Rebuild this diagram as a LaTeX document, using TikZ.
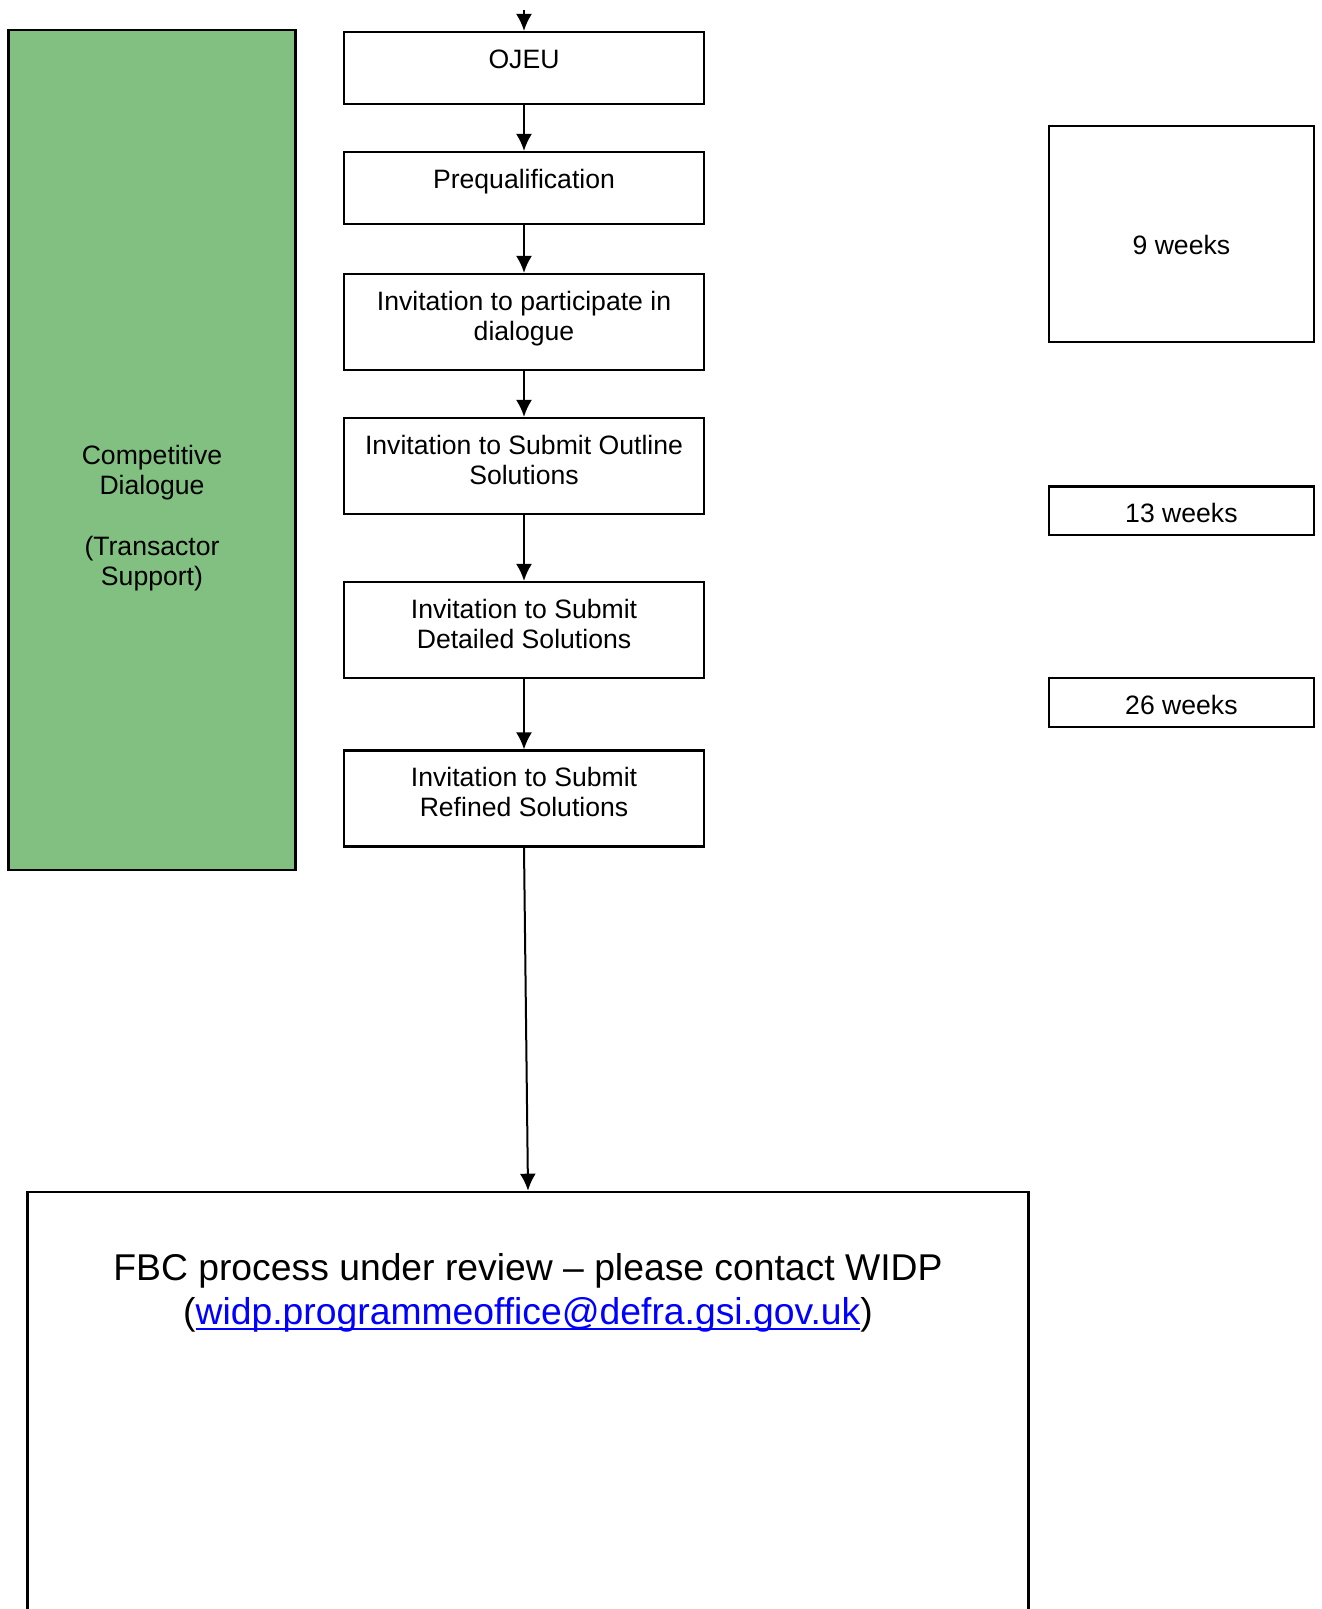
\documentclass[tikz,border=0pt]{standalone}
\usepackage{fontspec}
\setmainfont{Liberation Sans}
\usepackage{xcolor}
\usetikzlibrary{arrows.meta}
\definecolor{leafgreen}{RGB}{129,192,129}
\definecolor{linkblue}{RGB}{0,0,255}
\newcommand{\linkline}[1]{\setbox0=\hbox{#1}\leavevmode\rlap{\raisebox{-5.5pt}{\rule{\wd0}{2.4pt}}}\box0}

\begin{document}
\begin{tikzpicture}[x=1pt,y=-1pt,-{Latex[length=17pt,width=16pt]},
  line width=2pt,
  box/.style={rectangle,draw,line width=2.2pt,inner sep=0pt,minimum width=360pt},
  week/.style={rectangle,draw,line width=2.2pt,inner sep=0pt,minimum width=265pt},
  lbl/.style={anchor=north,inner sep=0pt,align=center,font=\fontsize{26.6}{30.3}\selectfont}]

  \useasboundingbox (0,0) rectangle (1322,1609);

  % phase bar on the left
  \node[rectangle,draw,fill=leafgreen,line width=2.2pt,minimum width=287pt,
    minimum height=840pt] (phase) at (152,450) {};
  \node[lbl] (phaset) at ([yshift=-413pt]phase.north)
    {\strut Competitive\\Dialogue\\[30.3pt](Transactor\\Support)};

  % main flow
  \coordinate (start) at (524,10);
  \node[box,minimum height=72pt] (ojeu) at (524,68) {};
  \node[box,minimum height=72pt] (preq) at (524,188) {};
  \node[box,minimum height=96pt] (itpd) at (524,322) {};
  \node[box,minimum height=96pt] (isos) at (524,466) {};
  \node[box,minimum height=96pt] (isds) at (524,630) {};
  \node[box,minimum height=96pt] (isrs) at (524,798.5) {};
  \node[rectangle,draw,line width=2.6pt,inner sep=0pt,minimum width=1001pt,
    minimum height=508pt] (fbc) at (528,1446) {};

  \node[lbl] (ojeut) at ([yshift=-15pt]ojeu.north) {\strut OJEU};
  \node[lbl] (preqt) at ([yshift=-15pt]preq.north) {\strut Prequalification};
  \node[lbl] (itpdt) at ([yshift=-15pt]itpd.north) {\strut Invitation to participate in\\dialogue};
  \node[lbl] (isost) at ([yshift=-15pt]isos.north) {\strut Invitation to Submit Outline\\Solutions};
  \node[lbl] (isdst) at ([yshift=-15pt]isds.north) {\strut Invitation to Submit\\Detailed Solutions};
  \node[lbl] (isrst) at ([yshift=-15pt]isrs.north) {\strut Invitation to Submit\\Refined Solutions};
  \node[lbl,font=\fontsize{37.3}{44}\selectfont] (fbct) at ([yshift=-58pt]fbc.north)
    {\strut FBC process under review -- please contact WIDP\\
     (\textcolor{linkblue}{\linkline{widp.programmeoffice@defra.gsi.gov.uk}})};

  % durations
  \node[week,minimum height=215.6pt] (w9) at (1181.4,234) {};
  \node[week,minimum height=48.3pt] (w13) at (1181.4,510.6) {};
  \node[week,minimum height=48.3pt] (w26) at (1181.4,702.5) {};
  \node[lbl] (w9t) at ([yshift=-107pt]w9.north) {\strut 9 weeks};
  \node[lbl] (w13t) at ([yshift=-15pt]w13.north) {\strut 13 weeks};
  \node[lbl] (w26t) at ([yshift=-15pt]w26.north) {\strut 26 weeks};

\path
  (start) edge (ojeu.north)
  (ojeu) edge (preq)
  (preq) edge (itpd)
  (itpd) edge (isos)
  (isos) edge (isds)
  (isds) edge (isrs)
  (isrs.south) edge (fbc.north);
\end{tikzpicture}
\end{document}
